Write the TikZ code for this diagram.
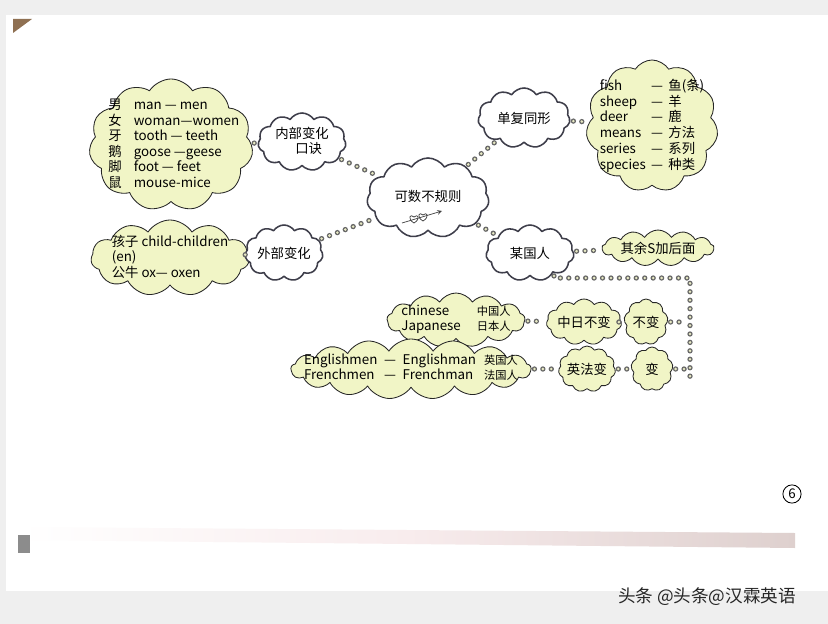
\documentclass[tikz,border=0pt]{standalone}
\usepackage{fontspec}
\setmainfont{Noto Sans CJK SC}
\usetikzlibrary{shapes.symbols,arrows,positioning}
\definecolor{leafyellow}{RGB}{241,245,198}
\definecolor{beadfill}{RGB}{232,234,196}
\definecolor{pagegrey}{RGB}{239,239,239}
\definecolor{inkgrey}{RGB}{62,62,74}
\newcommand{\flatbox}[1]{\makebox[0pt]{\raisebox{-2.5pt}[0pt][0pt]{#1}}}
\newcommand{\tinyzh}{\fontsize{8}{9}\selectfont}
\tikzset{
  puff/.style={cloud, cloud puffs=11, cloud puff arc=115, cloud ignores aspect, inner sep=0pt, line join=round},
  idea/.style={puff, draw=inkgrey, line width=1.1pt, fill=white},
  leaf/.style={puff, draw=black!85, line width=0.6pt, fill=leafyellow},
  beads/.style={draw=black!60, line width=3.8pt, line cap=round, dash pattern=on 0pt off 6pt,
    shorten >=2pt, shorten <=2pt,
    postaction={draw=beadfill, line width=2pt, line cap=round, dash pattern=on 0pt off 6pt,
    shorten >=2pt, shorten <=2pt}}
}

\begin{document}
\begin{tikzpicture}[x=0.025cm, y=-0.025cm, every node/.style={font=\fontsize{9.5}{10.6}\selectfont}, >=stealth]
  \useasboundingbox (0,0) rectangle (828,624);
  % page
  \fill[pagegrey] (0,0) rectangle (828,624);
  \fill[white] (6,15) rectangle (828,591);
  \fill[brown!60!black!80] (13,19) -- (32,19) -- (13,33) -- cycle;
  \shade[left color=white, right color={rgb,255:red,222;green,208;blue,206}, middle color={rgb,255:red,248;green,236;blue,237}] (20,527) -- (795,533) -- (795,548) -- (20,540) -- cycle;
  \fill[black!45] (18,535) rectangle (30,553);

  % clouds
  \node[leaf, minimum width=4.1cm, minimum height=3.3cm] (nouns) at (171,145) {\flatbox{\hspace{4pt}\begin{tabular}[c]{@{}l@{\hspace{0.9em}}l@{}}
    男 & man — men\\ 女 & woman—women\\ 牙 & tooth — teeth\\ 鹅 & goose —geese\\ 脚 & foot — feet\\ 鼠 & mouse-mice\end{tabular}}};
  \node[idea, minimum width=2.2cm, minimum height=1.45cm] (inner) at (302,142) {\flatbox{\begin{tabular}[c]{@{}c@{}}内部变化\\ \quad 口诀\end{tabular}}};
  \node[leaf, minimum width=3.95cm, minimum height=1.9cm] (child) at (170,258) {\flatbox{\begin{tabular}[c]{@{}l@{}}
    孩子 child-children\\ (en)\\ 公牛 ox— oxen\end{tabular}}};
  \node[idea, minimum width=1.95cm, minimum height=1.4cm] (outer) at (284,253) {外部变化};
  \node[idea, minimum width=3.05cm, minimum height=2cm] (root) at (428,198) {\flatbox{可数不规则}};
  \node[idea, minimum width=2.3cm, minimum height=1.5cm] (same) at (524,118) {单复同形};
  \node[leaf, minimum width=3.3cm, minimum height=3.3cm] (animals) at (652,126) {\flatbox{\begin{tabular}[c]{@{}l@{\hspace{0.4em}}c@{\hspace{0.4em}}l@{}}
    fish & — & 鱼(条)\\ sheep & — & 羊\\ deer & — & 鹿\\ means & — & 方法\\ series & — & 系列\\ species & — & 种类\end{tabular}}};
  \node[idea, minimum width=2.2cm, minimum height=1.4cm] (people) at (530,253) {某国人};
  \node[leaf, minimum width=2.8cm, minimum height=0.9cm, cloud puffs=13] (rest) at (658,248) {其余S加后面};
  \node[leaf, minimum width=3.45cm, minimum height=1.35cm, cloud puffs=13] (cj) at (456,320) {\flatbox{\begin{tabular}[c]{@{}l@{\hspace{1.2em}}l@{}}
    chinese & \tinyzh 中国人\\ Japanese & \tinyzh 日本人\end{tabular}}};
  \node[leaf, minimum width=6cm, minimum height=1.5cm, cloud puffs=17] (ef) at (411,369) {\flatbox{\begin{tabular}[c]{@{}l@{\hspace{0.5em}}c@{\hspace{0.5em}}l@{\hspace{0.6em}}l@{}}
    Englishmen & — & Englishman & \tinyzh 英国人\\ Frenchmen & — & Frenchman & \tinyzh 法国人\end{tabular}}};
  \node[leaf, minimum width=1.6cm, minimum height=1.15cm] (cjrule) at (584,322) {中日不变};
  \node[leaf, minimum width=1.1cm, minimum height=1.15cm, cloud puffs=9] (keep) at (646,322) {不变};
  \node[leaf, minimum width=1.4cm, minimum height=1.15cm] (efrule) at (587,369) {英法变};
  \node[leaf, minimum width=1.05cm, minimum height=1.1cm, cloud puffs=9] (change) at (652,369) {变};

  % heart doodle
  \draw[black!75, line width=0.5pt, shift={(414,219)}] (0,4) .. controls (-7,0) and (-4,-6) .. (0,-2) .. controls (4,-6) and (7,0) .. (0,4);
  \draw[black!75, line width=0.5pt, shift={(423,217)}] (0,4) .. controls (-7,0) and (-4,-6) .. (0,-2) .. controls (4,-6) and (7,0) .. (0,4);
  \draw[black!75, line width=0.5pt, ->] (402,223) -- (442,211);

  % connectors
  \coordinate (elbow) at (690,278);
  \coordinate (foot) at (690,380);
  \draw[beads] (nouns) -- (inner);
  \draw[beads] (inner) -- (root);
  \draw[beads] (outer) -- (root);
  \draw[beads] (child) -- (outer);
  \draw[beads] (root) -- (same);
  \draw[beads] (same) -- (animals);
  \draw[beads] (root) -- (people);
  \draw[beads] (people) -- (rest);
  \draw[beads] (people.-40) |- (elbow) -- (foot);
  \draw[beads] (cj) -- (cjrule);
  \draw[beads] (cjrule) -- (keep);
  \draw[beads] (keep) -- (keep -| elbow);
  \draw[beads] (ef) -- (efrule);
  \draw[beads] (efrule) -- (change);
  \draw[beads] (change) -- (change -| elbow);

  % page number and mark
  \node[draw, circle, line width=0.6pt, inner sep=1.5pt] (page) at (792,494) {6};
  \node[font=\fontsize{12.5}{14}\selectfont, text=black!85] (mark) at (707,597) {头条 @头条@汉霖英语};
\end{tikzpicture}
\end{document}
